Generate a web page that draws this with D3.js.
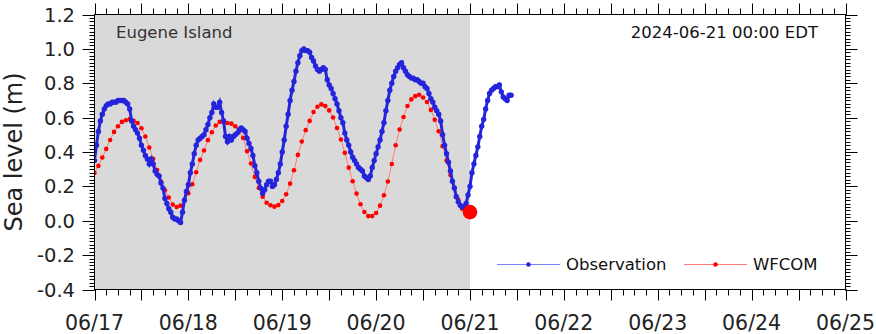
<!DOCTYPE html>
<html>
<head>
<meta charset="utf-8">
<script src="https://cdn.jsdelivr.net/npm/d3@7"></script>
<style>
  html, body { margin: 0; padding: 0; background: #fff; }
  svg { display: block; font-family: "DejaVu Sans", sans-serif; }
</style>
</head>
<body>
<svg id="chart" width="876" height="334"></svg>
<script>
// Station and timing
const stationName = "Eugene Island";
const nowLabel = "2024-06-21 00:00 EDT";
const startTime = Date.UTC(2024, 5, 17);       // 06/17 00:00
const endTime = Date.UTC(2024, 5, 25);         // 06/25 00:00
const nowTime = Date.UTC(2024, 5, 21);         // forecast start

// Y axis ticks
const yTicks = [-0.4, -0.2, 0.0, 0.2, 0.4, 0.6, 0.8, 1.0, 1.2];
const yTickLabels = ["-0.4", "-0.2", "0.0", "0.2", "0.4", "0.6", "0.8", "1.0", "1.2"];
const xTickLabels = ["06/17", "06/18", "06/19", "06/20", "06/21", "06/22", "06/23", "06/24", "06/25"];

// Observed water level, every 30 minutes from 06/17 00:00 (m)
const obsStepMinutes = 30;
const obsValues = [
  0.35, 0.44, 0.52, 0.58, 0.62, 0.65, 0.67, 0.68, 0.68, 0.69, 0.69, 0.69, 0.70, 0.70, 0.70, 0.70,
  0.69, 0.68, 0.65, 0.58, 0.55, 0.53, 0.51, 0.48, 0.44, 0.41, 0.38, 0.36, 0.33, 0.36, 0.33, 0.29,
  0.27, 0.26, 0.22, 0.19, 0.13, 0.10, 0.07, 0.05, 0.02, 0.01, 0.01, 0.00, -0.01, 0.05, 0.12, 0.17,
  0.21, 0.28, 0.33, 0.39, 0.44, 0.47, 0.48, 0.49, 0.50, 0.53, 0.56, 0.60, 0.63, 0.68, 0.66, 0.66,
  0.69, 0.63, 0.58, 0.49, 0.46, 0.49, 0.47, 0.49, 0.50, 0.51, 0.53, 0.54, 0.53, 0.52, 0.48, 0.45,
  0.42, 0.38, 0.32, 0.28, 0.23, 0.19, 0.16, 0.18, 0.21, 0.23, 0.23, 0.20, 0.21, 0.24, 0.28, 0.33,
  0.40, 0.47, 0.55, 0.62, 0.70, 0.76, 0.81, 0.87, 0.92, 0.96, 0.99, 1.00, 0.99, 0.99, 0.98, 0.95,
  0.93, 0.90, 0.88, 0.87, 0.88, 0.89, 0.88, 0.82, 0.79, 0.77, 0.74, 0.71, 0.68, 0.64, 0.60, 0.57,
  0.51, 0.47, 0.44, 0.40, 0.37, 0.35, 0.33, 0.31, 0.30, 0.29, 0.26, 0.25, 0.24, 0.26, 0.31, 0.35,
  0.39, 0.43, 0.47, 0.52, 0.57, 0.64, 0.70, 0.76, 0.80, 0.84, 0.87, 0.89, 0.91, 0.92, 0.89, 0.87,
  0.85, 0.84, 0.83, 0.83, 0.82, 0.82, 0.81, 0.80, 0.80, 0.78, 0.77, 0.74, 0.71, 0.69, 0.66, 0.64,
  0.62, 0.58, 0.50, 0.44, 0.39, 0.34, 0.29, 0.23, 0.19, 0.14, 0.11, 0.09, 0.08, 0.08, 0.10, 0.15,
  0.20, 0.28, 0.33, 0.38, 0.43, 0.49, 0.55, 0.59, 0.65, 0.70, 0.74, 0.76, 0.77, 0.78, 0.78, 0.79,
  0.75, 0.72, 0.71, 0.70, 0.73, 0.73
];

// WFCOM modelled water level, hourly from 06/17 00:00 to 06/21 00:00 (m)
const modelStepMinutes = 60;
const wfcomValues = [
  0.278, 0.319, 0.368, 0.418, 0.470, 0.517, 0.550, 0.575, 0.585, 0.591, 0.581, 0.569, 0.538, 0.490,
  0.426, 0.360, 0.295, 0.228, 0.177, 0.135, 0.094, 0.080, 0.088, 0.119, 0.160, 0.212, 0.282, 0.354,
  0.409, 0.469, 0.515, 0.554, 0.575, 0.573, 0.569, 0.565, 0.550, 0.521, 0.482, 0.404, 0.333, 0.255,
  0.191, 0.140, 0.105, 0.090, 0.082, 0.091, 0.115, 0.154, 0.216, 0.294, 0.383, 0.461, 0.527, 0.581,
  0.633, 0.663, 0.677, 0.667, 0.642, 0.601, 0.540, 0.473, 0.395, 0.309, 0.230, 0.158, 0.096, 0.051,
  0.027, 0.027, 0.045, 0.088, 0.148, 0.228, 0.330, 0.439, 0.531, 0.604, 0.668, 0.706, 0.725, 0.733,
  0.717, 0.691, 0.645, 0.587, 0.521, 0.434, 0.350, 0.266, 0.193, 0.123, 0.070, 0.055, 0.050
];

const legendNames = ["Observation", "WFCOM"];
const obsColor = "#2424dc";
const obsLineColor = "#8080ff";
const modelColor = "#ff0000";
const modelLineColor = "#ff7a7a";

const width = 876, height = 334;
const margin = { top: 14.5, right: 30.5, bottom: 44.5, left: 94.5 };
const x0 = margin.left, x1 = width - margin.right;
const y0 = margin.top, y1 = height - margin.bottom;

const svg = d3.select("#chart");

const x = d3.scaleUtc().domain([startTime, endTime]).range([x0, x1]);
const y = d3.scaleLinear().domain([-0.4, 1.2]).range([y1, y0]);

const obs = obsValues.map((v, i) => ({ t: startTime + i * obsStepMinutes * 60000, v }));
const model = wfcomValues.map((v, i) => ({ t: startTime + i * modelStepMinutes * 60000, v }));

// hindcast period shading
svg.append("rect")
  .attr("x", x(startTime)).attr("y", y0)
  .attr("width", x(nowTime) - x(startTime)).attr("height", y1 - y0)
  .attr("fill", "#d9d9d9");

svg.append("defs").append("clipPath").attr("id", "plotclip")
  .append("rect").attr("x", x0).attr("y", y0).attr("width", x1 - x0).attr("height", y1 - y0);

const plot = svg.append("g").attr("clip-path", "url(#plotclip)");

const line = d3.line().x(d => x(d.t)).y(d => y(d.v));

// model series
plot.append("path").datum(model)
  .attr("d", line).attr("fill", "none")
  .attr("stroke", modelLineColor).attr("stroke-width", 1);
plot.append("g").selectAll("circle").data(model).join("circle")
  .attr("cx", d => x(d.t)).attr("cy", d => y(d.v)).attr("r", 2.3)
  .attr("fill", modelColor);

// observations
plot.append("path").datum(obs)
  .attr("d", line).attr("fill", "none")
  .attr("stroke", obsColor).attr("stroke-width", 3);
plot.append("g").selectAll("circle").data(obs).join("circle")
  .attr("cx", d => x(d.t)).attr("cy", d => y(d.v)).attr("r", 2.7)
  .attr("fill", obsColor);

// forecast start marker on the model series
const last = model[model.length - 1];
svg.append("circle")
  .attr("cx", x(last.t)).attr("cy", y(last.v)).attr("r", 7.3)
  .attr("fill", modelColor);

// frame
svg.append("rect")
  .attr("x", x0).attr("y", y0).attr("width", x1 - x0).attr("height", y1 - y0)
  .attr("fill", "none").attr("stroke", "#000").attr("stroke-width", 1);

// x axes: long ticks every 12 h, short every 3 h
const majorX = d3.utcHour.every(12).range(startTime, endTime + 1);
const minorX = d3.utcHour.every(3).range(startTime, endTime + 1);
const dayTicks = d3.utcDay.range(startTime, endTime + 1);

function xAxisTicks(ticks, len, yBase, dir) {
  svg.append("g").selectAll("line").data(ticks).join("line")
    .attr("x1", d => Math.round(x(d)) + 0.5).attr("x2", d => Math.round(x(d)) + 0.5)
    .attr("y1", yBase).attr("y2", yBase + dir * len)
    .attr("stroke", "#000").attr("stroke-width", 1);
}
xAxisTicks(minorX, 6, y1, 1);
xAxisTicks(majorX, 11, y1, 1);
xAxisTicks(minorX, 6, y0, -1);
xAxisTicks(majorX, 11, y0, -1);

svg.append("g").selectAll("text").data(dayTicks).join("text")
  .attr("x", d => x(d)).attr("y", 330)
  .attr("text-anchor", "middle")
  .attr("font-size", 20.5).attr("fill", "#222")
  .text((d, i) => xTickLabels[i]);

// y axes: long ticks every 0.2, short every 0.02
const minorY = d3.range(-0.4, 1.2001, 0.02);
function yAxisTicks(ticks, len, xBase, dir) {
  svg.append("g").selectAll("line").data(ticks).join("line")
    .attr("y1", d => Math.round(y(d)) + 0.5).attr("y2", d => Math.round(y(d)) + 0.5)
    .attr("x1", xBase).attr("x2", xBase + dir * len)
    .attr("stroke", "#000").attr("stroke-width", 1);
}
yAxisTicks(minorY, 5, x0, -1);
yAxisTicks(yTicks, 12, x0, -1);
yAxisTicks(minorY, 5, x1, 1);
yAxisTicks(yTicks, 12, x1, 1);

svg.append("g").selectAll("text").data(yTicks).join("text")
  .attr("x", 75).attr("y", d => y(d)).attr("dy", "0.36em")
  .attr("text-anchor", "end")
  .attr("font-size", 19.5).attr("fill", "#222")
  .text((d, i) => yTickLabels[i]);

svg.append("text")
  .attr("transform", `translate(22,${(y0 + y1) / 2}) rotate(-90)`)
  .attr("text-anchor", "middle")
  .attr("font-size", 24).attr("fill", "#222")
  .text("Sea level (m)");

// annotations
svg.append("text").attr("x", 116).attr("y", 38)
  .attr("font-size", 16.5).attr("fill", "#333").text(stationName);
svg.append("text").attr("x", 818).attr("y", 38).attr("text-anchor", "end")
  .attr("font-size", 16.5).attr("fill", "#111").text(nowLabel);

// legend
const legend = [
  { name: legendNames[0], lx: 497, color: obsColor, lineColor: obsLineColor },
  { name: legendNames[1], lx: 684, color: modelColor, lineColor: modelLineColor }
];
const ly = 264.5;
const lg = svg.append("g").selectAll("g").data(legend).join("g");
lg.append("line")
  .attr("x1", d => d.lx).attr("x2", d => d.lx + 63)
  .attr("y1", ly).attr("y2", ly)
  .attr("stroke", d => d.lineColor).attr("stroke-width", 1);
lg.append("circle")
  .attr("cx", d => d.lx + 31.5).attr("cy", ly).attr("r", 2.3)
  .attr("fill", d => d.color);
lg.append("text")
  .attr("x", d => d.lx + 69).attr("y", ly).attr("dy", "0.36em")
  .attr("font-size", 16.5).attr("fill", "#111")
  .text(d => d.name);
</script>
</body>
</html>
